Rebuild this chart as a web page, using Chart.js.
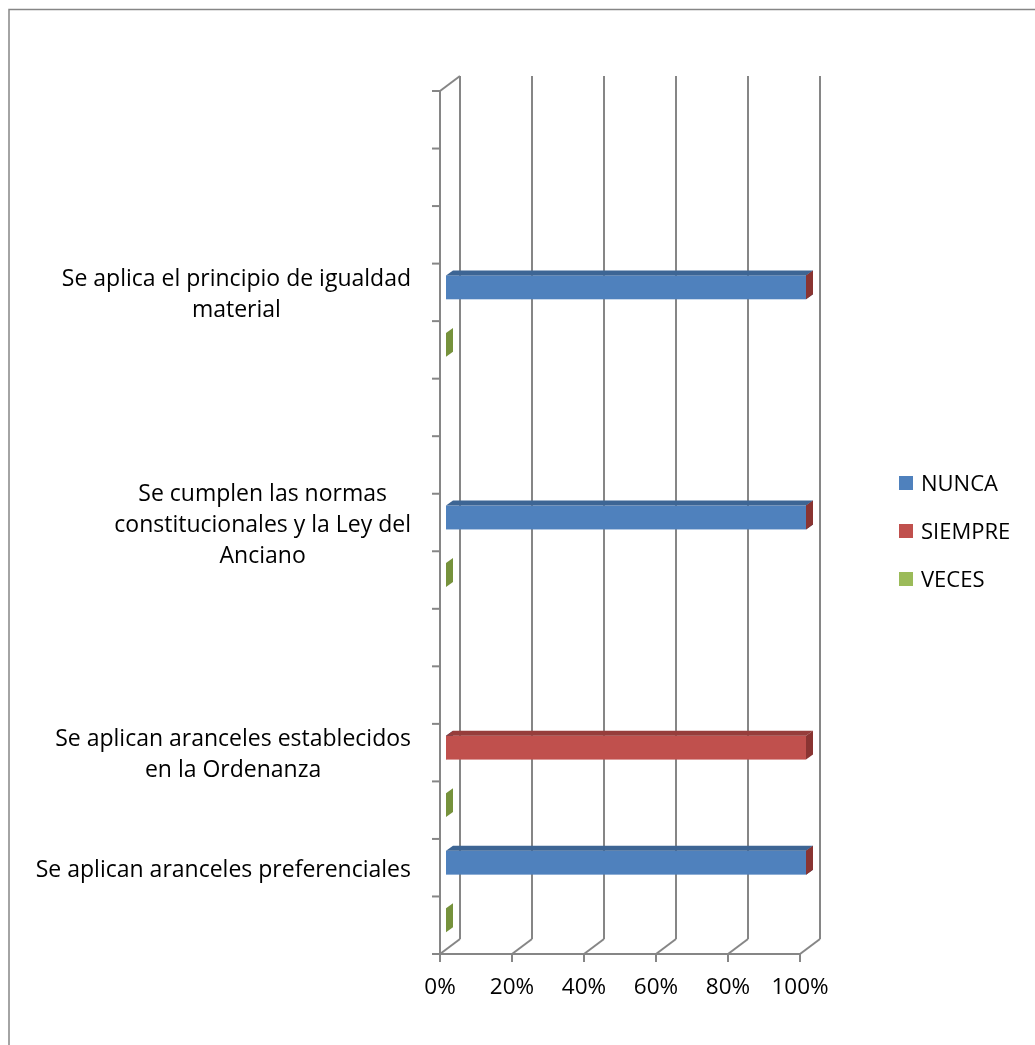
<!DOCTYPE html>
<html>
<head>
<meta charset="utf-8">
<script src="https://cdn.jsdelivr.net/npm/chart.js@4.4.0/dist/chart.umd.min.js"></script>
<style>
  html, body { margin: 0; padding: 0; background: #fff; }
  canvas { display: block; }
</style>
</head>
<body>
<canvas id="myChart" width="1035" height="1045"></canvas>
<script>
// categories top to bottom (empty rows are Excel's unlabeled slots)
const categories = [
  '', '', '',
  ['Se aplica el principio de igualdad', 'material'],
  '', '', '',
  ['Se cumplen las normas', 'constitucionales y la Ley del', 'Anciano'],
  '', '', '',
  ['Se aplican aranceles establecidos', 'en la Ordenanza'],
  '',
  ['Se aplican aranceles preferenciales'],
  ''
];
const nunca   = [null, null, null, 100, null, null, null, 100, null, null, null, 0,   null, 100, null];
const siempre = [null, null, null, 0,   null, null, null, 0,   null, null, null, 100, null, 0,   null];
const veces   = [null, null, null, null, 0,   null, null, null, 0,   null, null, null, 0,   null, 0];
const xTicks  = [0, 20, 40, 60, 80, 100];

const GRID = '#868686';
const FONT = '"Open Sans"';
const DEPTH = {x: 20, y: -15};          // back wall offset
const BAR = {x: 6, y: -5, dx: 7, dy: -5}; // bar position inside depth + bar thickness
const topColors  = ['#3D6594', '#963D3B', '#7A9645'];
const sideColors = ['#33557E', '#8A3432', '#76923C'];

function line(ctx, x1, y1, x2, y2) {
  ctx.beginPath();
  ctx.moveTo(x1, y1);
  ctx.lineTo(x2, y2);
  ctx.stroke();
}

const frame3d = {
  id: 'frame3d',
  beforeDraw(chart) {
    const ctx = chart.ctx;
    ctx.save();
    ctx.fillStyle = '#fff';
    ctx.fillRect(0, 0, chart.width, chart.height);
    ctx.strokeStyle = GRID;
    ctx.lineWidth = 1.5;
    ctx.strokeRect(9, 9.5, chart.width + 20, chart.height + 20);
    ctx.restore();
  },
  beforeDatasetsDraw(chart) {
    const ctx = chart.ctx;
    const xs = chart.scales.x, ys = chart.scales.y;
    const top = ys.top, bot = ys.bottom, left = xs.left, right = xs.right;
    ctx.save();
    ctx.strokeStyle = GRID;
    ctx.lineWidth = 2;
    // back wall gridlines + floor lines
    xTicks.forEach(v => {
      const px = xs.getPixelForValue(v);
      line(ctx, px + DEPTH.x, top + DEPTH.y, px + DEPTH.x, bot + DEPTH.y);
      line(ctx, px, bot, px + DEPTH.x, bot + DEPTH.y);
      line(ctx, px, bot, px, bot + 8);
    });
    // left wall top edge
    line(ctx, left, top, left + DEPTH.x, top + DEPTH.y);
    // axes
    line(ctx, left, top, left, bot);
    line(ctx, left - 1, bot, right, bot);
    const slot = (bot - top) / categories.length;
    for (let i = 0; i <= categories.length; i++) {
      const py = top + i * slot;
      line(ctx, left - 8, py, left, py);
    }
    ctx.restore();
  },
  beforeDatasetDraw() {
    return false; // bars are drawn as 3D boxes below
  },
  afterDatasetsDraw(chart) {
    const ctx = chart.ctx;
    ctx.save();
    chart.data.datasets.forEach((ds, di) => {
      const meta = chart.getDatasetMeta(di);
      meta.data.forEach((el, i) => {
        if (ds.data[i] === null) return;
        const p = el.getProps(['x', 'y', 'base', 'height'], true);
        const l = Math.min(p.x, p.base) + BAR.x, r = Math.max(p.x, p.base) + BAR.x;
        const t = p.y - p.height / 2 + BAR.y, b = p.y + p.height / 2 + BAR.y;
        if (r - l > 0.5) {
          ctx.fillStyle = ds.backgroundColor;
          ctx.fillRect(l, t, r - l, b - t);
          ctx.fillStyle = topColors[di];
          ctx.beginPath();
          ctx.moveTo(l, t); ctx.lineTo(l + BAR.dx, t + BAR.dy);
          ctx.lineTo(r + BAR.dx, t + BAR.dy); ctx.lineTo(r, t);
          ctx.closePath(); ctx.fill();
        }
        ctx.fillStyle = sideColors[di];
        ctx.beginPath();
        ctx.moveTo(r, t); ctx.lineTo(r + BAR.dx, t + BAR.dy);
        ctx.lineTo(r + BAR.dx, b + BAR.dy); ctx.lineTo(r, b);
        ctx.closePath(); ctx.fill();
      });
    });
    ctx.restore();
  },
  afterDraw(chart) {
    const ctx = chart.ctx;
    const ys = chart.scales.y;
    ctx.save();
    ctx.fillStyle = '#000';
    ctx.font = '23px ' + FONT;
    ctx.textAlign = 'center';
    ctx.textBaseline = 'alphabetic';
    // category labels: centred lines, block right-aligned near the axis
    const lh = 31;
    categories.forEach((lab, i) => {
      const lines = Array.isArray(lab) ? lab : [lab];
      if (!lines[0]) return;
      const w = Math.max(...lines.map(s => ctx.measureText(s).width));
      const cx = 411 - w / 2;
      const cy = ys.getPixelForValue(i);
      lines.forEach((s, k) => {
        ctx.fillText(s, cx, cy + 9 + (k - (lines.length - 1) / 2) * lh);
      });
    });
    // legend
    ctx.font = '22px ' + FONT;
    ctx.textAlign = 'left';
    chart.data.datasets.forEach((ds, di) => {
      const cy = 483 + di * 48;
      ctx.fillStyle = ds.backgroundColor;
      ctx.fillRect(899, cy - 7, 14, 14);
      ctx.fillStyle = '#000';
      ctx.fillText(ds.label, 921, cy + 8);
    });
    ctx.restore();
  }
};

const myChart = new Chart(document.getElementById('myChart'), {
  type: 'bar',
  data: {
    labels: categories,
    datasets: [
      {label: 'NUNCA', data: nunca, backgroundColor: '#4F81BD'},
      {label: 'SIEMPRE', data: siempre, backgroundColor: '#C0504D'},
      {label: 'VECES', data: veces, backgroundColor: '#9BBB59'}
    ]
  },
  options: {
    indexAxis: 'y',
    responsive: false,
    animation: false,
    devicePixelRatio: 1,
    layout: {padding: {top: 91, right: 235, bottom: 0, left: 0}},
    datasets: {bar: {categoryPercentage: 1, barPercentage: 0.415}},
    plugins: {legend: {display: false}, tooltip: {enabled: false}},
    scales: {
      x: {
        stacked: true,
        min: 0,
        max: 100,
        afterFit(s) { s.height = 91; },
        afterBuildTicks(s) { s.ticks = xTicks.map(v => ({value: v})); },
        grid: {display: false, drawTicks: false},
        border: {display: false},
        ticks: {
          padding: 20,
          color: '#000',
          maxRotation: 0,
          font: {family: 'Open Sans', size: 22.5},
          callback: v => v + '%'
        }
      },
      y: {
        stacked: true,
        afterFit(s) { s.width = 440; },
        grid: {display: false, drawTicks: false},
        border: {display: false},
        ticks: {display: false}
      }
    }
  },
  plugins: [frame3d]
});
</script>
</body>
</html>
